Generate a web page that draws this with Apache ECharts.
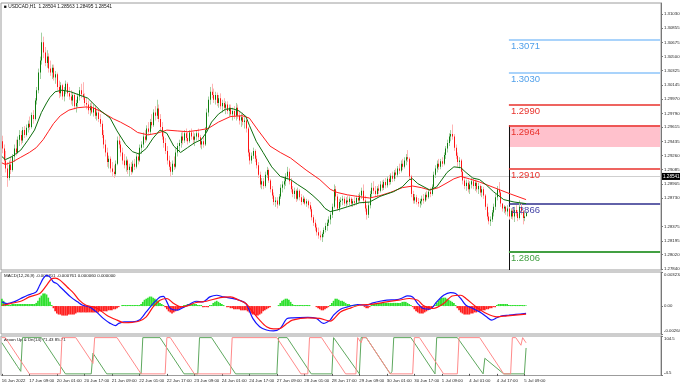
<!DOCTYPE html>
<html>
<head>
<meta charset="utf-8">
<script src="https://cdn.jsdelivr.net/npm/echarts@6.0.0/dist/echarts.min.js"></script>
<style>html,body{margin:0;padding:0;background:#fff;}#chart{width:680px;height:385px;}</style>
</head>
<body>
<div id="chart"></div>
<script>
// ---------- data ----------
const tickIndex = [0,16,32,48,64,80,96,112,128,144,160,176,192,208,224,240,256,272,288,304];
const tickLabels = ['16 Jun 2022','17 Jun 09:00','20 Jun 01:00','20 Jun 17:00','21 Jun 09:00','22 Jun 01:00','22 Jun 17:00','23 Jun 09:00','24 Jun 01:00','24 Jun 17:00','27 Jun 09:00','28 Jun 01:00','28 Jun 17:00','29 Jun 09:00','30 Jun 01:00','30 Jun 17:00','1 Jul 09:00','4 Jul 01:00','4 Jul 17:00','5 Jul 09:00'];
const priceTicks = [1.31030,1.30855,1.30675,1.30500,1.30325,1.30145,1.29970,1.29790,1.29615,1.29435,1.29260,1.29085,1.28905,1.28730,1.28375,1.28195,1.28020,1.27840];
const macdTicks = [0.003234, 0, -0.002649];
const aroonTicks = [104.5, -4.5];

// [open, high, low, close] per H1 bar, 16 Jun 17:00 .. 5 Jul 10:00
const ohlc = [
[1.2944,1.2951,1.2929,1.2935],[1.2935,1.2940,1.2915,1.2920],[1.2920,1.2932,1.2905,1.2910],[1.2910,1.2918,1.2887,1.2898],[1.2898,1.2920,1.2895,1.2915],
[1.2915,1.2925,1.2903,1.2908],[1.2908,1.2928,1.2906,1.2925],[1.2925,1.2940,1.2918,1.2935],[1.2935,1.2946,1.2926,1.2930],[1.2930,1.2950,1.2928,1.2946],
[1.2946,1.2958,1.2938,1.2952],[1.2952,1.2957,1.2940,1.2945],[1.2945,1.2962,1.2942,1.2958],[1.2958,1.2963,1.2948,1.2952],[1.2952,1.2965,1.2950,1.2961],
[1.2961,1.2970,1.2955,1.2966],[1.2966,1.2975,1.2958,1.2962],[1.2962,1.2980,1.2960,1.2977],[1.2977,1.2983,1.2966,1.2972],[1.2972,1.2998,1.2970,1.2995],
[1.2995,1.3012,1.2990,1.3008],[1.3008,1.3035,1.3004,1.3030],[1.3030,1.3050,1.3022,1.3045],[1.3045,1.3080,1.3040,1.3068],[1.3068,1.3075,1.3048,1.3055],
[1.3055,1.3062,1.3038,1.3042],[1.3042,1.3058,1.3036,1.3050],[1.3050,1.3054,1.3030,1.3035],[1.3035,1.3045,1.3026,1.3030],[1.3030,1.3040,1.3022,1.3036],
[1.3036,1.3040,1.3020,1.3024],[1.3024,1.3032,1.3016,1.3028],[1.3028,1.3030,1.3008,1.3012],[1.3012,1.3020,1.2998,1.3004],[1.3004,1.3018,1.3000,1.3014],
[1.3014,1.3016,1.2996,1.3000],[1.3000,1.3012,1.2994,1.3008],[1.3008,1.3020,1.3003,1.3016],[1.3016,1.3018,1.3000,1.3004],[1.3004,1.3012,1.2996,1.3000],
[1.3000,1.3008,1.2990,1.2995],[1.2995,1.3006,1.2988,1.3002],[1.3002,1.3005,1.2984,1.2988],[1.2988,1.2996,1.2980,1.2992],[1.2992,1.3004,1.2986,1.3000],
[1.3000,1.3012,1.2995,1.3008],[1.3008,1.3016,1.2998,1.3003],[1.3003,1.3018,1.2996,1.2999],[1.2999,1.3004,1.2988,1.2992],[1.2992,1.2998,1.2984,1.2990],
[1.2990,1.2995,1.2978,1.2983],[1.2983,1.2992,1.2976,1.2988],[1.2988,1.2994,1.2978,1.2980],[1.2980,1.2990,1.2975,1.2986],[1.2986,1.2989,1.2972,1.2976],
[1.2976,1.2984,1.2970,1.2980],[1.2980,1.2985,1.2968,1.2972],[1.2972,1.2978,1.2962,1.2966],[1.2966,1.2970,1.2948,1.2952],[1.2952,1.2958,1.2935,1.2940],
[1.2940,1.2946,1.2925,1.2930],[1.2930,1.2936,1.2912,1.2918],[1.2918,1.2926,1.2910,1.2922],[1.2922,1.2925,1.2905,1.2910],[1.2910,1.2918,1.2900,1.2906],
[1.2906,1.2914,1.2898,1.2903],[1.2903,1.2920,1.2901,1.2916],[1.2916,1.2950,1.2914,1.2945],[1.2945,1.2952,1.2935,1.2940],[1.2940,1.2944,1.2925,1.2930],
[1.2930,1.2936,1.2915,1.2920],[1.2920,1.2928,1.2910,1.2914],[1.2914,1.2925,1.2906,1.2920],[1.2920,1.2922,1.2903,1.2908],[1.2908,1.2916,1.2900,1.2912],
[1.2912,1.2918,1.2902,1.2906],[1.2906,1.2920,1.2904,1.2916],[1.2916,1.2922,1.2908,1.2912],[1.2912,1.2928,1.2910,1.2925],[1.2925,1.2930,1.2915,1.2920],
[1.2920,1.2940,1.2918,1.2936],[1.2936,1.2944,1.2928,1.2940],[1.2940,1.2955,1.2936,1.2950],[1.2950,1.2958,1.2942,1.2946],[1.2946,1.2964,1.2944,1.2960],
[1.2960,1.2968,1.2952,1.2956],[1.2956,1.2972,1.2953,1.2968],[1.2968,1.2978,1.2960,1.2964],[1.2964,1.2984,1.2962,1.2980],[1.2980,1.2988,1.2970,1.2976],
[1.2976,1.2996,1.2972,1.2985],[1.2985,1.2990,1.2968,1.2972],[1.2972,1.2978,1.2958,1.2962],[1.2962,1.2968,1.2946,1.2950],[1.2950,1.2956,1.2936,1.2942],
[1.2942,1.2948,1.2928,1.2932],[1.2932,1.2938,1.2915,1.2920],[1.2920,1.2926,1.2908,1.2912],[1.2912,1.2918,1.2900,1.2906],[1.2906,1.2920,1.2902,1.2916],
[1.2916,1.2925,1.2908,1.2912],[1.2912,1.2935,1.2910,1.2930],[1.2930,1.2942,1.2925,1.2938],[1.2938,1.2946,1.2930,1.2942],[1.2942,1.2955,1.2936,1.2950],
[1.2950,1.2956,1.2940,1.2945],[1.2945,1.2958,1.2942,1.2954],[1.2954,1.2960,1.2944,1.2948],[1.2948,1.2956,1.2940,1.2944],[1.2944,1.2958,1.2942,1.2955],
[1.2955,1.2960,1.2946,1.2950],[1.2950,1.2956,1.2940,1.2946],[1.2946,1.2954,1.2938,1.2950],[1.2950,1.2958,1.2945,1.2954],[1.2954,1.2960,1.2945,1.2949],
[1.2949,1.2952,1.2936,1.2940],[1.2940,1.2948,1.2934,1.2944],[1.2944,1.2950,1.2936,1.2940],[1.2940,1.2962,1.2938,1.2958],[1.2958,1.2985,1.2955,1.2980],
[1.2980,1.3000,1.2975,1.2996],[1.2996,1.3012,1.2990,1.3006],[1.3006,1.3016,1.2998,1.3002],[1.3002,1.3010,1.2992,1.2996],[1.2996,1.3006,1.2990,1.3002],
[1.3002,1.3005,1.2988,1.2992],[1.2992,1.3002,1.2986,1.2998],[1.2998,1.3004,1.2984,1.2988],[1.2988,1.2996,1.2980,1.2992],[1.2992,1.2998,1.2982,1.2986],
[1.2986,1.2994,1.2978,1.2990],[1.2990,1.2994,1.2978,1.2982],[1.2982,1.2990,1.2975,1.2986],[1.2986,1.2990,1.2974,1.2978],[1.2978,1.2986,1.2970,1.2982],
[1.2982,1.2988,1.2972,1.2976],[1.2976,1.2992,1.2970,1.2986],[1.2986,1.2990,1.2972,1.2976],[1.2976,1.2982,1.2965,1.2970],[1.2970,1.2978,1.2962,1.2974],
[1.2974,1.2980,1.2964,1.2968],[1.2968,1.2974,1.2960,1.2970],[1.2970,1.2972,1.2955,1.2960],[1.2960,1.2962,1.2925,1.2930],[1.2930,1.2934,1.2915,1.2920],
[1.2920,1.2930,1.2916,1.2926],[1.2926,1.2936,1.2922,1.2932],[1.2932,1.2934,1.2918,1.2922],[1.2922,1.2926,1.2910,1.2914],[1.2914,1.2918,1.2898,1.2902],
[1.2902,1.2906,1.2886,1.2890],[1.2890,1.2898,1.2884,1.2894],[1.2894,1.2898,1.2884,1.2888],[1.2888,1.2906,1.2886,1.2902],[1.2902,1.2912,1.2898,1.2908],
[1.2908,1.2910,1.2892,1.2895],[1.2895,1.2897,1.2880,1.2884],[1.2884,1.2888,1.2872,1.2876],[1.2876,1.2880,1.2864,1.2868],[1.2868,1.2874,1.2862,1.2870],
[1.2870,1.2874,1.2860,1.2865],[1.2865,1.2878,1.2863,1.2875],[1.2875,1.2890,1.2872,1.2886],[1.2886,1.2894,1.2880,1.2890],[1.2890,1.2898,1.2884,1.2894],
[1.2894,1.2904,1.2888,1.2900],[1.2900,1.2912,1.2896,1.2906],[1.2906,1.2910,1.2890,1.2894],[1.2894,1.2898,1.2880,1.2884],[1.2884,1.2888,1.2874,1.2878],
[1.2878,1.2886,1.2872,1.2882],[1.2882,1.2884,1.2868,1.2872],[1.2872,1.2886,1.2870,1.2882],[1.2882,1.2884,1.2870,1.2874],[1.2874,1.2878,1.2864,1.2868],
[1.2868,1.2876,1.2866,1.2872],[1.2872,1.2874,1.2864,1.2866],[1.2866,1.2872,1.2862,1.2869],[1.2869,1.2871,1.2860,1.2864],[1.2864,1.2868,1.2856,1.2859],
[1.2859,1.2862,1.2845,1.2849],[1.2849,1.2852,1.2838,1.2842],[1.2842,1.2846,1.2832,1.2836],[1.2836,1.2840,1.2826,1.2830],[1.2830,1.2836,1.2822,1.2826],
[1.2826,1.2832,1.2820,1.2824],[1.2824,1.2830,1.2818,1.2828],[1.2828,1.2836,1.2824,1.2833],[1.2833,1.2842,1.2830,1.2838],[1.2838,1.2846,1.2832,1.2842],
[1.2842,1.2850,1.2838,1.2846],[1.2846,1.2855,1.2840,1.2852],[1.2852,1.2866,1.2848,1.2862],[1.2862,1.2890,1.2860,1.2884],[1.2884,1.2888,1.2870,1.2875],
[1.2875,1.2878,1.2857,1.2860],[1.2860,1.2872,1.2856,1.2868],[1.2868,1.2874,1.2862,1.2870],[1.2870,1.2876,1.2864,1.2872],[1.2872,1.2875,1.2863,1.2866],
[1.2866,1.2874,1.2862,1.2870],[1.2870,1.2876,1.2864,1.2868],[1.2868,1.2875,1.2864,1.2872],[1.2872,1.2874,1.2862,1.2866],[1.2866,1.2872,1.2862,1.2869],
[1.2869,1.2874,1.2863,1.2867],[1.2867,1.2876,1.2864,1.2873],[1.2873,1.2878,1.2866,1.2870],[1.2870,1.2880,1.2867,1.2876],[1.2876,1.2886,1.2872,1.2882],
[1.2882,1.2890,1.2866,1.2870],[1.2870,1.2876,1.2856,1.2860],[1.2860,1.2864,1.2846,1.2852],[1.2852,1.2868,1.2848,1.2864],[1.2864,1.2882,1.2860,1.2878],
[1.2878,1.2892,1.2874,1.2886],[1.2886,1.2894,1.2878,1.2882],[1.2882,1.2888,1.2874,1.2878],[1.2878,1.2888,1.2875,1.2885],[1.2885,1.2890,1.2878,1.2882],
[1.2882,1.2894,1.2880,1.2890],[1.2890,1.2895,1.2882,1.2886],[1.2886,1.2896,1.2883,1.2893],[1.2893,1.2898,1.2885,1.2889],[1.2889,1.2900,1.2886,1.2897],
[1.2897,1.2902,1.2889,1.2893],[1.2893,1.2904,1.2890,1.2901],[1.2901,1.2906,1.2893,1.2897],[1.2897,1.2908,1.2894,1.2905],[1.2905,1.2910,1.2897,1.2902],
[1.2902,1.2913,1.2899,1.2910],[1.2910,1.2916,1.2903,1.2907],[1.2907,1.2920,1.2905,1.2916],[1.2916,1.2922,1.2908,1.2912],[1.2912,1.2924,1.2910,1.2920],
[1.2920,1.2928,1.2914,1.2924],[1.2924,1.2933,1.2918,1.2922],[1.2922,1.2924,1.2896,1.2900],[1.2900,1.2902,1.2874,1.2878],[1.2878,1.2882,1.2866,1.2870],
[1.2870,1.2878,1.2866,1.2874],[1.2874,1.2877,1.2865,1.2868],[1.2868,1.2873,1.2862,1.2866],[1.2866,1.2872,1.2861,1.2869],[1.2869,1.2876,1.2864,1.2872],
[1.2872,1.2878,1.2866,1.2870],[1.2870,1.2880,1.2868,1.2877],[1.2877,1.2882,1.2870,1.2874],[1.2874,1.2884,1.2872,1.2881],[1.2881,1.2886,1.2874,1.2878],
[1.2878,1.2890,1.2876,1.2887],[1.2887,1.2906,1.2884,1.2902],[1.2902,1.2914,1.2898,1.2910],[1.2910,1.2920,1.2905,1.2916],[1.2916,1.2922,1.2908,1.2912],
[1.2912,1.2922,1.2909,1.2919],[1.2919,1.2924,1.2912,1.2916],[1.2916,1.2930,1.2914,1.2927],[1.2927,1.2938,1.2922,1.2935],[1.2935,1.2946,1.2930,1.2942],
[1.2942,1.2954,1.2938,1.2950],[1.2950,1.2958,1.2944,1.2953],[1.2953,1.2965,1.2946,1.2950],[1.2950,1.2953,1.2932,1.2936],[1.2936,1.2940,1.2922,1.2926],
[1.2926,1.2930,1.2912,1.2918],[1.2918,1.2924,1.2910,1.2920],[1.2920,1.2922,1.2900,1.2906],[1.2906,1.2910,1.2890,1.2895],[1.2895,1.2900,1.2884,1.2888],
[1.2888,1.2896,1.2882,1.2892],[1.2892,1.2896,1.2880,1.2884],[1.2884,1.2894,1.2878,1.2890],[1.2890,1.2898,1.2885,1.2894],[1.2894,1.2898,1.2884,1.2888],
[1.2888,1.2896,1.2882,1.2892],[1.2892,1.2895,1.2880,1.2884],[1.2884,1.2892,1.2878,1.2888],[1.2888,1.2890,1.2876,1.2880],[1.2880,1.2888,1.2874,1.2884],
[1.2884,1.2887,1.2872,1.2876],[1.2876,1.2878,1.2858,1.2862],[1.2862,1.2866,1.2846,1.2850],[1.2850,1.2855,1.2840,1.2844],[1.2844,1.2850,1.2838,1.2846],
[1.2846,1.2858,1.2843,1.2855],[1.2855,1.2866,1.2850,1.2862],[1.2862,1.2878,1.2858,1.2874],[1.2874,1.2888,1.2870,1.2884],[1.2884,1.2893,1.2876,1.2880],
[1.2880,1.2882,1.2862,1.2866],[1.2866,1.2866,1.2856,1.2860],[1.2860,1.2864,1.2854,1.2862],[1.2862,1.2863,1.2852,1.2856],[1.2856,1.2864,1.2850,1.2860],
[1.2860,1.2862,1.2846,1.2850],[1.2850,1.2860,1.2847,1.2857],[1.2857,1.2860,1.2846,1.2850],[1.2850,1.2862,1.2843,1.2858],[1.2858,1.2864,1.2850,1.2854],
[1.2854,1.2858,1.2844,1.2848],[1.2848,1.2870,1.2846,1.2862],[1.2862,1.2866,1.2852,1.2856],[1.2856,1.2858,1.2840,1.2848],[1.2848,1.2856,1.2844,1.2850],
[1.28504,1.28563,1.28495,1.28541]
];

// moving averages: [bar, price]
const maFast = [[0,1.2925],[2,1.2921],[6,1.2925],[11,1.2933],[15,1.2945],[19,1.2958],[23,1.2980],[26,1.2992],[28,1.2999],[31,1.3006],[35,1.3008],[40,1.3006],[45,1.3002],[50,1.2998],[57,1.2983],[63,1.2973],[67,1.2957],[72,1.2940],[76,1.2931],[80,1.2928],[84,1.2935],[88,1.2948],[92,1.2958],[96,1.2954],[100,1.2938],[104,1.2930],[108,1.2936],[112,1.2942],[116,1.2946],[119,1.2955],[122,1.2968],[126,1.2978],[130,1.2984],[134,1.2985],[138,1.2982],[142,1.2975],[144,1.2964],[148,1.2944],[152,1.2930],[157,1.2912],[162,1.2900],[168,1.2896],[172,1.2890],[177,1.2883],[181,1.2876],[185,1.2868],[188,1.2860],[191,1.2856],[195,1.2858],[201,1.2862],[208,1.2867],[214,1.2868],[220,1.2875],[228,1.2881],[233,1.2887],[237,1.2896],[239,1.2897],[242,1.2891],[249,1.2883],[253,1.2887],[259,1.2905],[263,1.2912],[267,1.2911],[270,1.2905],[274,1.2898],[278,1.2896],[282,1.2889],[286,1.2881],[292,1.2871],[298,1.2868],[305,1.2866]];
const maSlow = [[0,1.2917],[2,1.2915],[6,1.2918],[11,1.2924],[16,1.2930],[20,1.2936],[24,1.2946],[27,1.2956],[30,1.2966],[34,1.2976],[39,1.2983],[44,1.2986],[49,1.2987],[53,1.2986],[57,1.2982],[61,1.2977],[65,1.2972],[69,1.2968],[75,1.2961],[79,1.2955],[85,1.2952],[90,1.2954],[96,1.2958],[102,1.2957],[108,1.2956],[115,1.2958],[120,1.2960],[126,1.2968],[133,1.2975],[140,1.2976],[144,1.2973],[149,1.2958],[156,1.2938],[162,1.2930],[168,1.2923],[177,1.2908],[185,1.2896],[191,1.2884],[195,1.2880],[201,1.2877],[207,1.2875],[214,1.2873],[220,1.2876],[226,1.2880],[233,1.2886],[239,1.2888],[244,1.2886],[249,1.2883],[254,1.2886],[259,1.2892],[263,1.2897],[267,1.2900],[272,1.2897],[278,1.2893],[284,1.2888],[290,1.2883],[296,1.2878],[305,1.2871]];

// MACD(12,26,9): main & signal read as [bar, value]; histogram per bar
const macdMain = [[0,0.00040],[3,0.00024],[7,0.00040],[11,0.00072],[15,0.00103],[18,0.00119],[20,0.00134],[22,0.00197],[24,0.00260],[26,0.00291],[28,0.00275],[30,0.00228],[32,0.00213],[34,0.00181],[36,0.00150],[40,0.00087],[44,0.00040],[47,0.00008],[51,-0.00008],[55,-0.00055],[59,-0.00117],[63,-0.00164],[66,-0.00186],[68,-0.00164],[71,-0.00149],[76,-0.00149],[80,-0.00133],[84,-0.00055],[88,0.00024],[92,0.00087],[94,0.00093],[96,0.00040],[98,-0.00023],[102,-0.00039],[105,-0.00017],[109,0.00015],[113,0.00046],[117,0.00040],[121,0.00087],[125,0.00103],[129,0.00087],[134,0.00072],[138,0.00056],[142,0.00024],[146,-0.00117],[150,-0.00196],[154,-0.00227],[158,-0.00236],[162,-0.00211],[166,-0.00117],[169,-0.00111],[178,-0.00107],[183,-0.00117],[187,-0.00164],[191,-0.00133],[193,-0.00086],[197,-0.00030],[201,-0.00008],[207,0.00015],[212,0.00008],[216,0.00030],[220,0.00046],[224,0.00056],[230,0.00062],[233,0.00077],[236,0.00097],[239,0.00087],[242,0.00024],[245,-0.00023],[249,-0.00029],[253,0.00040],[257,0.00103],[261,0.00128],[264,0.00119],[267,0.00072],[270,0.00008],[274,-0.00023],[278,-0.00055],[282,-0.00102],[285,-0.00133],[288,-0.00111],[291,-0.00092],[295,-0.00086],[299,-0.00079],[305,-0.000701]];
const macdSignal = [[0,0.00008],[5,0.00024],[11,0.00046],[16,0.00087],[22,0.00119],[26,0.00197],[29,0.00260],[31,0.00265],[34,0.00244],[38,0.00181],[42,0.00119],[45,0.00056],[49,0.00008],[55,-0.00017],[61,-0.00086],[67,-0.00133],[71,-0.00158],[76,-0.00154],[80,-0.00142],[84,-0.00102],[88,-0.00008],[92,0.00056],[96,0.00072],[100,0.00024],[104,-0.00008],[108,0.00002],[113,0.00034],[119,0.00046],[127,0.00081],[133,0.00087],[138,0.00056],[142,0.00024],[146,-0.00055],[150,-0.00133],[154,-0.00196],[158,-0.00217],[162,-0.00211],[166,-0.00164],[169,-0.00133],[178,-0.00111],[185,-0.00117],[191,-0.00142],[197,-0.00055],[202,-0.00023],[208,0.00008],[216,0.00018],[224,0.00040],[231,0.00056],[237,0.00072],[242,0.00056],[245,0.00008],[251,-0.00023],[257,0.00024],[262,0.00096],[267,0.00103],[270,0.00072],[276,-0.00008],[282,-0.00070],[288,-0.00102],[294,-0.00092],[305,-0.000761]];
const macdHist = [
0.0007,0.0005,0.0003,0.0001,0.0001,0.0001,0.0002,0.0002,0.0002,0.0002,
0.0002,0.0002,0.0002,0.0002,0.0002,0.0002,0.0002,0.0002,0.0002,0.0002,
0.0003,0.0005,0.0008,0.0010,0.0012,0.0012,0.0011,0.0008,0.0004,0.0001,
-0.0002,-0.0005,-0.0007,-0.0008,-0.0008,-0.0009,-0.0009,-0.0009,-0.0009,-0.0008,
-0.0008,-0.0008,-0.0008,-0.0007,-0.0006,-0.0006,-0.0006,-0.0006,-0.0006,-0.0006,
-0.0006,-0.0006,-0.0006,-0.0006,-0.0006,-0.0006,-0.0006,-0.0005,-0.0005,-0.0005,
-0.0005,-0.0005,-0.0004,-0.0004,-0.0004,-0.0003,-0.0003,-0.0002,-0.0001,0,
0.0001,0.0001,0.0001,0.0001,0.0001,0.0001,0.0001,0.0001,0.0001,0.0001,
0.0001,0.0002,0.0004,0.0006,0.0007,0.0008,0.0009,0.0009,0.0008,0.0007,
0.0006,0.0005,0.0003,0.0002,0.0001,-0.0001,-0.0003,-0.0005,-0.0006,-0.0007,
-0.0006,-0.0005,-0.0004,-0.0003,-0.0002,-0.0001,0.0001,0.0001,0.0002,0.0002,
0.0002,0.0002,0.0002,0.0002,0.0001,0.0001,0.0001,-0.0001,-0.0001,-0.0001,
-0.0001,0.0001,0.0001,0.0003,0.0004,0.0005,0.0004,0.0003,0.0002,0.0001,
0,-0.0001,-0.0001,-0.0002,-0.0002,-0.0003,-0.0003,-0.0003,-0.0003,-0.0004,
-0.0004,-0.0004,-0.0004,-0.0005,-0.0006,-0.0007,-0.0008,-0.0008,-0.0009,-0.0009,
-0.0008,-0.0007,-0.0005,-0.0004,-0.0003,-0.0002,-0.0001,0,0,0,
0,0.0001,0.0003,0.0005,0.0006,0.0007,0.0007,0.0006,0.0004,0.0002,
0.0001,0.0001,0.0001,0.0001,0.0001,0.0001,0.0001,0.0001,0.0001,0.0001,
0,0,0,-0.0001,-0.0002,-0.0003,-0.0004,-0.0004,-0.0003,-0.0002,
-0.0001,0.0001,0.0003,0.0005,0.0007,0.0007,0.0006,0.0005,0.0005,0.0004,
0.0003,0.0002,0.0002,0.0001,0.0001,0.0001,0.0001,0,0,0,
0,-0.0001,-0.0002,-0.0002,-0.0001,0.0001,0.0002,0.0002,0.0002,0.0003,
0.0003,0.0003,0.0003,0.0003,0.0003,0.0003,0.0003,0.0003,0.0003,0.0003,
0.0003,0.0003,0.0003,0.0004,0.0004,0.0004,0.0003,0.0002,0.0001,-0.0001,
-0.0003,-0.0005,-0.0006,-0.0007,-0.0007,-0.0007,-0.0006,-0.0005,-0.0004,-0.0003,
-0.0002,-0.0001,0.0001,0.0003,0.0005,0.0007,0.0008,0.0008,0.0008,0.0007,
0.0006,0.0005,0.0004,0.0003,0.0001,-0.0002,-0.0004,-0.0006,-0.0007,-0.0008,
-0.0008,-0.0008,-0.0008,-0.0007,-0.0007,-0.0006,-0.0006,-0.0005,-0.0005,-0.0004,
-0.0004,-0.0004,-0.0003,-0.0003,-0.0002,-0.0002,-0.0001,-0.0001,0.0001,0.0002,
0.0002,0.0002,0.0002,0.0002,0.0002,0.0001,0.0001,0.0001,0.0001,0.0001,
0.0001,0.0001,0.0001,0.0001,0.0001,0.00006
];

// Aroon(14) read as [bar, value]
const aroonUp = [[0,86],[3,64],[9,21],[11,7],[12,100],[23,100],[37,0],[52,0],[53,57],[61,0],[81,0],[82,100],[92,100],[106,0],[114,0],[115,100],[122,100],[136,0],[160,0],[161,100],[166,100],[180,0],[192,0],[193,100],[194,100],[208,0],[209,100],[212,100],[226,0],[227,7],[228,100],[238,100],[252,0],[253,100],[265,100],[280,0],[281,43],[292,0],[304,0],[305,71.4]];
const aroonDown = [[0,100],[2,100],[16,0],[34,0],[35,100],[43,100],[53,29],[54,100],[67,100],[81,0],[95,0],[96,100],[98,100],[112,0],[133,0],[134,100],[160,100],[174,0],[178,0],[179,100],[186,100],[200,0],[206,0],[207,100],[209,86],[210,100],[212,100],[226,0],[239,0],[240,100],[243,100],[257,0],[265,0],[266,100],[278,100],[292,0],[296,0],[297,100],[299,100],[302,79],[303,100],[305,85.7]];

const levels = [1.3071, 1.3030, 1.2990, 1.2964, 1.2910, 1.2866, 1.2806];
const zone = [1.2964, 1.2937];
const lastPrice = 1.28541;
const vlineIndex = 295;            // 5 Jul 00:00
const SLOTS = 384;                 // bar slots incl. right margin
const headerText = '\u25A0 USDCAD,H1  1.28504 1.28563 1.28495 1.28541';
const macdTitle = 'MACD(12,26,9) -0.000701 -0.000761 0.000060 0.000000';
const aroonTitle = 'Aroon Up & Dn(14) 71.43 85.71';

// ---------- chart ----------
const F = 'Liberation Sans, Arial, sans-serif';
const cats = Array.from({length: SLOTS}, (_, i) => String(i));
const tickMap = new Map(tickIndex.map((k, j) => [k, tickLabels[j]]));
const PMIN = 1.27829, PMAX = 1.31171;

const gridBase = {left: 1, right: 19, show: true, borderColor: '#9c9c9c', borderWidth: 1, containLabel: false, outerBoundsMode: 'none'};
const grid = [
  Object.assign({top: 3, height: 267}, gridBase),
  Object.assign({top: 272, height: 62}, gridBase),
  Object.assign({top: 336, height: 39.5}, gridBase)
];
function xAx(g, showLabels) {
  return {
    type: 'category', gridIndex: g, data: cats, boundaryGap: true,
    axisLine: {show: false}, splitLine: {show: false},
    axisTick: {show: showLabels, interval: (i) => tickMap.has(i), length: 2, alignWithLabel: true, lineStyle: {color: '#555'}},
    axisLabel: {show: showLabels, interval: (i) => tickMap.has(i), formatter: (v) => tickMap.get(Number(v)) || '',
      fontSize: 4.3, color: '#222', align: 'left', margin: 3, fontFamily: F}
  };
}
const labelBase = {fontSize: 4.3, color: '#222', margin: 3, fontFamily: F};
const yAxis = [
  {type: 'value', gridIndex: 0, position: 'right', min: PMIN, max: PMAX, splitLine: {show: false},
    axisLine: {show: true, lineStyle: {color: '#777'}},
    axisTick: {show: true, length: 2, customValues: priceTicks, lineStyle: {color: '#777'}},
    axisLabel: Object.assign({customValues: priceTicks, formatter: (v) => v.toFixed(5)}, labelBase)},
  {type: 'value', gridIndex: 1, position: 'right', min: macdTicks[2], max: macdTicks[0], splitLine: {show: false},
    axisLine: {show: true, lineStyle: {color: '#777'}},
    axisTick: {show: true, length: 2, customValues: macdTicks, lineStyle: {color: '#777'}},
    axisLabel: Object.assign({customValues: macdTicks,
      formatter: (v) => v > 0 ? '{t|' + v.toFixed(6) + '}' : (v < 0 ? '{b|' + v.toFixed(6) + '}' : '{m|0.00}'),
      rich: {t: {fontSize: 4.3, padding: [6, 0, 0, 0]}, b: {fontSize: 4.3, padding: [0, 0, 6, 0]}, m: {fontSize: 4.3}}}, labelBase)},
  {type: 'value', gridIndex: 2, position: 'right', min: aroonTicks[1], max: aroonTicks[0], splitLine: {show: false},
    axisLine: {show: true, lineStyle: {color: '#777'}},
    axisTick: {show: true, length: 2, customValues: aroonTicks, lineStyle: {color: '#777'}},
    axisLabel: Object.assign({customValues: aroonTicks,
      formatter: (v) => v > 0 ? '{t|' + v.toFixed(1) + '}' : '{b|' + v.toFixed(1) + '}',
      rich: {t: {fontSize: 4.3, padding: [5, 0, 0, 0]}, b: {fontSize: 4.3, padding: [0, 0, 5, 0]}}}, labelBase)}
];

const levelStyle = [
  {line: '#a9d3fb', text: '#4f9fea', w: 2},
  {line: '#a9d3fb', text: '#4f9fea', w: 2},
  {line: '#e8312b', text: '#e8312b', w: 1.5},
  {line: '#e8312b', text: '#e8312b', w: 1.5},
  {line: '#e8312b', text: '#e8312b', w: 1.5},
  {line: '#2e2e8c', text: '#4646a8', w: 1.5},
  {line: '#43a043', text: '#43a043', w: 2}
];
const levelLines = levels.map((v, k) => [
  {coord: [vlineIndex, v], lineStyle: {color: levelStyle[k].line, width: levelStyle[k].w, type: 'solid'},
    label: {show: true, position: 'insideStartBottom', formatter: v.toFixed(4), color: levelStyle[k].text,
      fontSize: 9.5, fontFamily: F, distance: 2}},
  {coord: [SLOTS - 1, v]}
]);

const candleSeries = {
  type: 'custom', xAxisIndex: 0, yAxisIndex: 0, z: 5, clip: true,
  encode: {x: 0, y: [1, 2, 3, 4]},
  data: ohlc.map((d, i) => [i, d[0], d[1], d[2], d[3]]),
  renderItem: function (params, api) {
    const i = api.value(0), o = api.value(1), h = api.value(2), l = api.value(3), c = api.value(4);
    const po = api.coord([i, o]), pc = api.coord([i, c]), ph = api.coord([i, h]), pl = api.coord([i, l]);
    const up = c >= o;
    const x = Math.round(po[0]);
    const top = Math.min(po[1], pc[1]);
    const ht = Math.max(1, Math.abs(po[1] - pc[1]));
    return {type: 'group', children: [
      {type: 'line', shape: {x1: x + 0.5, y1: ph[1], x2: x + 0.5, y2: pl[1]}, style: {stroke: up ? '#a3d0a3' : '#ffb4b4', lineWidth: 1}},
      {type: 'rect', shape: {x: x, y: top, width: 1, height: ht}, style: {fill: up ? '#0f7d0f' : '#ff1414'}}
    ]};
  }
};

const option = {
  animation: false,
  backgroundColor: '#ffffff',
  grid: grid,
  xAxis: [xAx(0, false), xAx(1, false), xAx(2, true)],
  yAxis: yAxis,
  graphic: [
    {type: 'text', left: 4, top: 4, style: {text: headerText, fontSize: 4.8, fill: '#111', fontFamily: F}},
    {type: 'text', left: 4, top: 274, style: {text: macdTitle, fontSize: 4.4, fill: '#111', fontFamily: F}},
    {type: 'text', left: 4, top: 338, style: {text: aroonTitle, fontSize: 4.4, fill: '#111', fontFamily: F}}
  ],
  series: [
    {type: 'line', xAxisIndex: 0, yAxisIndex: 0, data: [], z: 1,
      markArea: {silent: true, itemStyle: {color: '#ffc1cc'},
        data: [[{coord: [vlineIndex, zone[0]]}, {coord: [SLOTS - 1, zone[1]]}]]},
      markLine: {silent: true, symbol: 'none', animation: false,
        data: [
          {yAxis: lastPrice, lineStyle: {color: '#cfcfcf', width: 1, type: 'solid'},
            label: {show: true, position: 'end', formatter: lastPrice.toFixed(5), fontSize: 4.6, color: '#fff',
              backgroundColor: '#000', padding: [1, 1], distance: 1, fontFamily: F}},
          [{coord: [vlineIndex, zone[0]], lineStyle: {color: '#111', width: 1, type: 'solid'}, label: {show: false}},
           {coord: [vlineIndex, PMIN]}]
        ].concat(levelLines)}},
    candleSeries,
    {type: 'line', xAxisIndex: 0, yAxisIndex: 0, data: maSlow, showSymbol: false, z: 6,
      lineStyle: {color: '#ff1e1e', width: 1}},
    {type: 'line', xAxisIndex: 0, yAxisIndex: 0, data: maFast, showSymbol: false, z: 7,
      lineStyle: {color: '#0d6e0d', width: 1}},
    {type: 'bar', xAxisIndex: 1, yAxisIndex: 1, data: macdHist, barCategoryGap: '0%',
      itemStyle: {color: (p) => p.value >= 0 ? '#2fe02f' : '#ff2020'}},
    {type: 'line', xAxisIndex: 1, yAxisIndex: 1, data: macdMain, showSymbol: false, smooth: 0.3,
      lineStyle: {color: '#1414ff', width: 1.2}},
    {type: 'line', xAxisIndex: 1, yAxisIndex: 1, data: macdSignal, showSymbol: false, smooth: 0.3,
      lineStyle: {color: '#ff1414', width: 1.2}},
    {type: 'line', xAxisIndex: 2, yAxisIndex: 2, data: aroonUp, showSymbol: false,
      lineStyle: {color: '#5ea85e', width: 1}},
    {type: 'line', xAxisIndex: 2, yAxisIndex: 2, data: aroonDown, showSymbol: false,
      lineStyle: {color: '#ff8a8a', width: 1}}
  ]
};
const chart = echarts.init(document.getElementById('chart'), null, {renderer: 'canvas', width: 680, height: 385});
chart.setOption(option);
</script>
</body>
</html>
